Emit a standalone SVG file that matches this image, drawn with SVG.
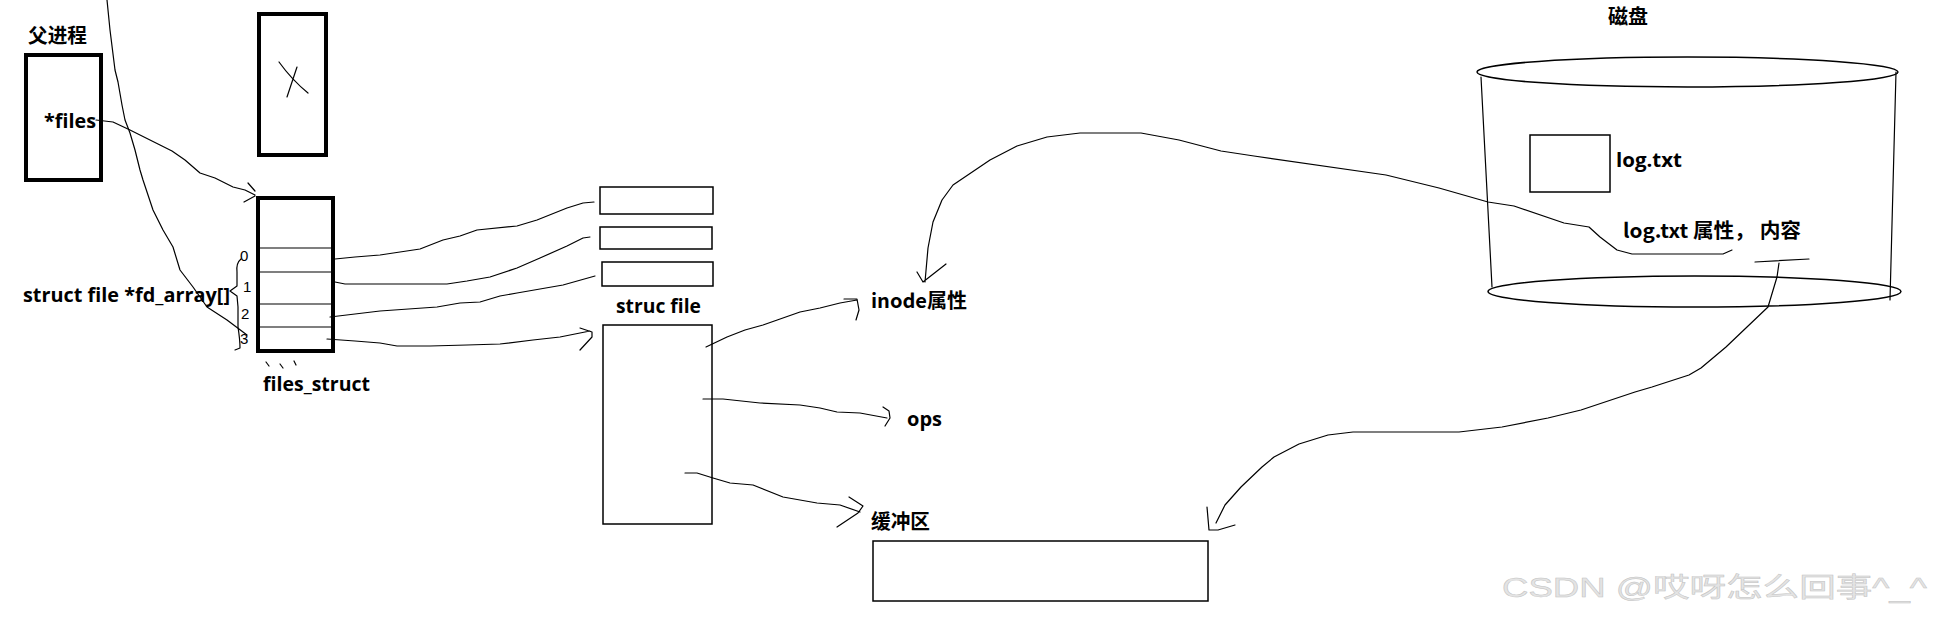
<svg xmlns="http://www.w3.org/2000/svg" width="1934" height="623" viewBox="0 0 1934 623">
<style>
.t{font-family:"Open Sans","Noto Sans CJK SC",sans-serif;font-weight:700;font-size:19px;fill:#000}
.c{font-family:"Noto Sans CJK SC","Open Sans",sans-serif;font-weight:700;font-size:20px;fill:#000}
.d{font-family:"Liberation Sans",sans-serif;font-size:15px;fill:#000}
.box{fill:none;stroke:#000;stroke-width:1.5}
.thick{fill:none;stroke:#000;stroke-width:4}
.ln{fill:none;stroke:#000;stroke-width:1.2;stroke-linejoin:round;stroke-linecap:round}
.wm{font-family:"Liberation Sans","Noto Sans CJK SC",sans-serif;font-size:27px;fill:#e4e4e4;stroke:#c2c2c2;stroke-width:0.45}
</style>
<rect width="1934" height="623" fill="#fff"/>

<g id="parent">
  <text class="c" x="28" y="43" textLength="59" lengthAdjust="spacingAndGlyphs">父进程</text>
  <rect class="thick" x="26" y="55" width="75" height="125"/>
  <text class="t" x="44" y="128" textLength="52" lengthAdjust="spacingAndGlyphs">*files</text>
</g>

<g id="xbox">
  <rect class="thick" x="259" y="14" width="67" height="141"/>
  <path class="ln" d="M279 62 Q292 80 308 93 M297 67 Q292 82 287 97"/>
</g>

<g id="files_struct">
  <rect class="thick" x="258" y="198" width="75" height="153"/>
  <path class="ln" d="M260 248H332M260 272H332M260 304H332M260 327H332"/>
  <path class="ln" d="M266 362l3 4M280 364l3 4M294 361l2 4"/>
  <text class="t" x="263" y="391" textLength="107" lengthAdjust="spacingAndGlyphs">files_struct</text>
</g>

<g id="fd_array">
  <text class="t" x="23" y="302" textLength="207" lengthAdjust="spacingAndGlyphs">struct file *fd_array[]</text>
  <path class="ln" d="M241 259 Q236 263 237 272 L237 286 L230 291 L237 296 L238 307 L238 327 Q240 340 240 348 L235 350"/>
  <text class="d" x="240" y="261">0</text>
  <text class="d" x="243" y="292">1</text>
  <text class="d" x="241" y="319">2</text>
  <text class="d" x="240" y="344">3</text>
</g>

<g id="file1"><rect class="box" x="600" y="187" width="113" height="27"/></g>
<g id="file2"><rect class="box" x="600" y="227" width="112" height="22"/></g>
<g id="file3"><rect class="box" x="602" y="262" width="111" height="24"/></g>

<g id="struc_file">
  <text class="t" x="616" y="313" textLength="85" lengthAdjust="spacingAndGlyphs">struc file</text>
  <rect class="box" x="603" y="325" width="109" height="199"/>
</g>

<g id="inode"><text class="c" x="871" y="308" textLength="96" lengthAdjust="spacingAndGlyphs">inode属性</text></g>
<g id="ops"><text class="t" x="907" y="426" textLength="35" lengthAdjust="spacingAndGlyphs">ops</text></g>

<g id="buffer">
  <text class="c" x="871" y="529" textLength="59" lengthAdjust="spacingAndGlyphs">缓冲区</text>
  <rect class="box" x="873" y="541" width="335" height="60"/>
</g>

<g id="disk">
  <text class="c" x="1608" y="24" textLength="40" lengthAdjust="spacingAndGlyphs">磁盘</text>
  <ellipse class="box" cx="1687.5" cy="72" rx="210.5" ry="15"/>
  <path class="ln" d="M1481 77 L1492 287 M1896 72 L1890 300"/>
  <ellipse class="box" cx="1694.5" cy="291.5" rx="206.5" ry="15.5"/>
  <text class="c" x="1623" y="238" textLength="178" lengthAdjust="spacingAndGlyphs">log.txt 属性， 内容</text>
</g>

<g id="log_txt">
  <rect class="box" x="1530" y="135" width="80" height="57"/>
  <text class="t" x="1616" y="167" textLength="66" lengthAdjust="spacingAndGlyphs">log.txt</text>
</g>

<g id="connectors">
  <path class="ln" d="M107 0 L110 30 L115 70 L118 82 L122 105 L125 120 L130 133 L135 150 L140 170 L143 180 L153 210 L163 230 L173 247 L180 270 L193 287 L207 307 L227 320 L247 335"/>
  <path class="ln" d="M96 120 L113 122 L130 130 L160 145 L172 151 L185 160 L200 173 L215 178 L233 187 L245 190 L255 195 M248 183 L255 191 M244 202 L255 196"/>
  <path class="ln" d="M335 259 L355 257 L380 255 L400 252 L420 249 L443 240 L460 236 L477 230 L517 226 L537 220 L567 208 L583 203 L594 202"/>
  <path class="ln" d="M335 282 L345 284 L447 284 L467 281 L490 277 L517 268 L540 258 L567 246 L583 238 L590 237"/>
  <path class="ln" d="M330 317 L380 311 L437 307 L460 303 L480 302 L500 296 L517 293 L563 285 L595 276"/>
  <path class="ln" d="M327 339 L355 341 L380 343 L397 346 L430 346 L467 345 L500 344 L533 340 L560 337 L580 333 L590 331 M580 328 L592 332 L592 337 L580 350"/>
  <path class="ln" d="M706 347 L727 337 L745 330 L763 325 L800 312 L820 308 L840 303 L857 300 M844 299 L857 299 L859 310 L856 320"/>
  <path class="ln" d="M703 399 L723 399 L760 403 L800 405 L820 408 L837 412 L860 413 L887 418 M883 407 L889 411 L890 418 L885 426"/>
  <path class="ln" d="M685 473 L697 473 L713 478 L730 483 L753 485 L783 497 L817 503 L840 505 L860 512 M849 497 L863 506 L858 513 L837 527"/>
  <path class="ln" d="M1732 250 L1723 254 L1632 254 L1617 250 L1600 237 L1589 227 L1564 223 L1514 206 L1488 202 L1439 188 L1386 175 L1254 156 L1221 151 L1179 140 L1141 133 L1080 133 L1047 137 L1017 146 L990 160 L953 185 L942 200 L933 222 L928 248 L925 282 M917 272 L923 282 L946 264"/>
  <path class="ln" d="M1755 262 L1809 259 M1779 263 L1777 277 L1768 307 L1747 327 L1726 347 L1701 368 L1689 375 L1652 387 L1635 392 L1581 410 L1548 418 L1502 427 L1459 432 L1353 432 L1328 435 L1299 444 L1274 457 L1262 467 L1241 487 L1225 505 L1216 523 M1207 507 L1209 530 L1218 530 L1235 525"/>
</g>

<g id="watermark">
  <text class="wm" x="1502" y="597" textLength="425" lengthAdjust="spacingAndGlyphs">CSDN @哎呀怎么回事^_^</text>
</g>
</svg>
